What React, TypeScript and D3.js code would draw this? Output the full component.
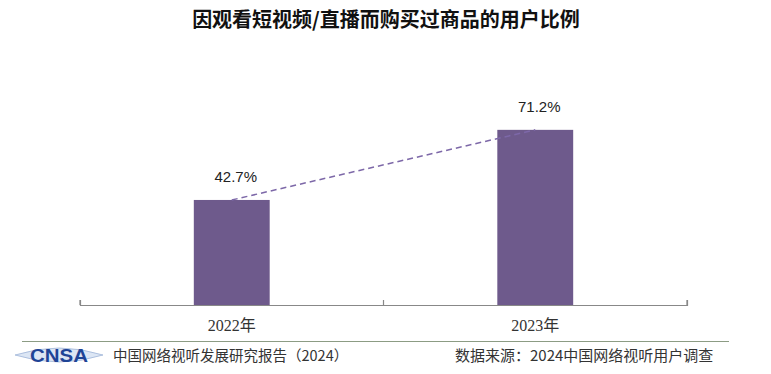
import { useEffect, useRef } from "react";
import * as d3 from "d3";

const years = ["2022年", "2023年"];
const shares = [42.7, 71.2];
const titleText = "因观看短视频/直播而购买过商品的用户比例";
const footerLeft = "中国网络视听发展研究报告（2024）";
const footerRight = "数据来源：2024中国网络视听用户调查";

const W = 771;
const H = 374;
const margin = { top: 59, right: 84, bottom: 69, left: 80 };

const BAR = "#6e5a8c";
const DASH = "#7d68a8";
const SANS = "Arial, 'Liberation Sans', 'Noto Sans CJK SC', sans-serif";
const CJK = "'Noto Sans CJK SC', 'Noto Sans', sans-serif";
const SERIF = "'Liberation Serif', 'DejaVu Serif', 'Noto Sans CJK SC', serif";

export default function App() {
  const svgRef = useRef<SVGSVGElement>(null);

  useEffect(() => {
    if (!svgRef.current) return;
    const svg = d3.select(svgRef.current);
    svg.selectAll("*").remove();

    const innerW = W - margin.left - margin.right;
    const baseY = H - margin.bottom;

    const x = d3.scaleBand<string>().domain(years).range([margin.left, margin.left + innerW]).padding(0);
    const y = d3.scaleLinear().domain([0, 100]).range([baseY, margin.top]);
    const barW = x.bandwidth() * 0.25;
    const cx = (d: string) => (x(d) ?? 0) + x.bandwidth() / 2;

    // title
    svg.append("text")
      .attr("x", 386).attr("y", 27)
      .attr("text-anchor", "middle")
      .attr("font-family", CJK).attr("font-size", 20).attr("font-weight", "bold")
      .attr("fill", "#111")
      .text(titleText);

    // bars
    svg.selectAll("rect.bar")
      .data(years)
      .enter().append("rect")
      .attr("class", "bar")
      .attr("x", (d) => cx(d) - barW / 2)
      .attr("y", (_d, i) => y(shares[i]))
      .attr("width", barW)
      .attr("height", (_d, i) => baseY - y(shares[i]))
      .attr("fill", BAR);

    // dashed trend line between bar tops
    const line = d3.line<number>()
      .x((_v, i) => cx(years[i]))
      .y((v) => y(v));
    svg.append("path")
      .attr("d", line(shares) ?? "")
      .attr("fill", "none")
      .attr("stroke", DASH)
      .attr("stroke-width", 1.5)
      .attr("stroke-dasharray", "6,4");

    // value labels
    svg.selectAll("text.val")
      .data(years)
      .enter().append("text")
      .attr("class", "val")
      .attr("x", (d) => cx(d) + 4)
      .attr("y", (_d, i) => y(shares[i]) - 18)
      .attr("text-anchor", "middle")
      .attr("font-family", SANS).attr("font-size", 15)
      .attr("fill", "#222")
      .text((_d, i) => `${shares[i]}%`);

    // x axis
    const axis = d3.axisBottom(x).tickSizeOuter(-5).tickFormat(() => "");
    const ag = svg.append("g").attr("transform", `translate(0,${baseY})`).call(axis);
    ag.select(".domain").attr("stroke", "#888").attr("stroke-width", 1.2);
    ag.selectAll(".tick").remove();
    // boundary ticks between categories
    const edges = [margin.left, ...years.map((d) => (x(d) ?? 0) + x.bandwidth())];
    svg.selectAll("line.edge")
      .data(edges)
      .enter().append("line")
      .attr("class", "edge")
      .attr("x1", (d) => d).attr("x2", (d) => d)
      .attr("y1", baseY - 5).attr("y2", baseY)
      .attr("stroke", "#888").attr("stroke-width", 1.2);

    svg.selectAll("text.cat")
      .data(years)
      .enter().append("text")
      .attr("class", "cat")
      .attr("x", (d) => cx(d))
      .attr("y", baseY + 26)
      .attr("text-anchor", "middle")
      .attr("font-family", SERIF).attr("font-size", 16)
      .attr("fill", "#333")
      .text((d) => d);

    // footer
    svg.append("line")
      .attr("x1", 22).attr("x2", 729)
      .attr("y1", 341.5).attr("y2", 341.5)
      .attr("stroke", "#8c9c84").attr("stroke-width", 1.2);

    const logo = svg.append("g").attr("transform", "translate(59,355)");
    logo.append("path")
      .attr("d", "M-44,0 Q0,-14 44,0 Q0,14 -44,0 Z")
      .attr("fill", "#dce6f4").attr("stroke", "#9fb5d8").attr("stroke-width", 0.8);
    logo.append("text")
      .attr("x", 0).attr("y", 7)
      .attr("text-anchor", "middle")
      .attr("font-family", "'Liberation Sans Narrow', 'Liberation Sans', Arial, sans-serif")
      .attr("font-size", 19).attr("font-weight", "bold")
      .attr("textLength", 58).attr("lengthAdjust", "spacingAndGlyphs")
      .attr("fill", "#1f4496")
      .text("CNSA");

    svg.append("text")
      .attr("x", 113).attr("y", 361)
      .attr("font-family", CJK).attr("font-size", 14.5)
      .attr("fill", "#333")
      .text(footerLeft);
    svg.append("text")
      .attr("x", 455).attr("y", 361)
      .attr("font-family", CJK).attr("font-size", 15)
      .attr("fill", "#333")
      .text(footerRight);
  }, []);

  return (
    <svg
      ref={svgRef}
      width={W}
      height={H}
      style={{ position: "absolute", left: 0, top: 0, background: "#fff", display: "block" }}
    />
  );
}
